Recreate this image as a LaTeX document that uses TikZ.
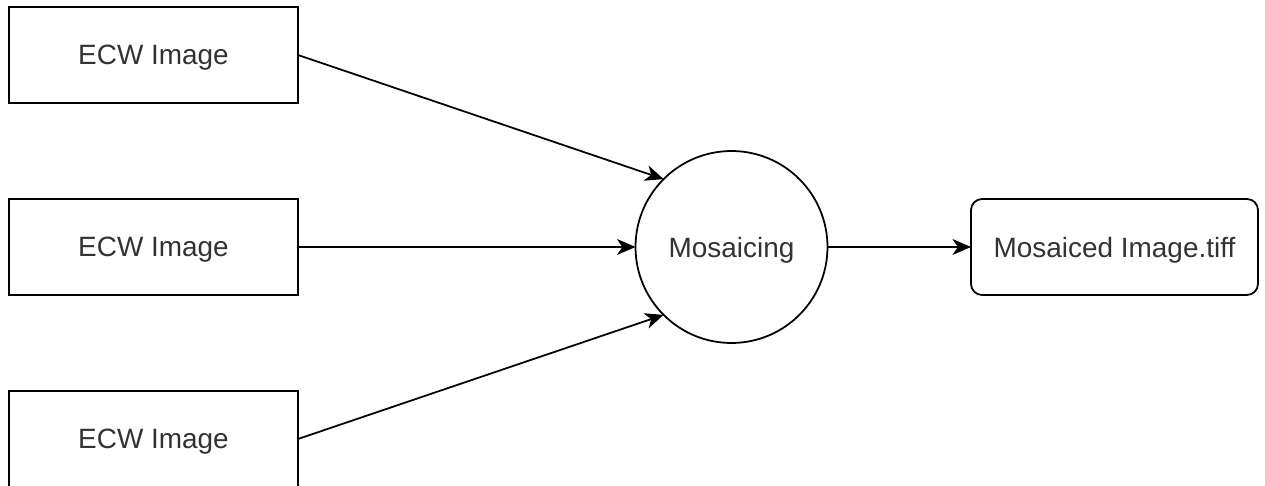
\documentclass[tikz,border=0pt]{standalone}
\usepackage{fontspec}
\setmainfont{Liberation Sans}
\usetikzlibrary{arrows.meta}
\definecolor{txtgray}{HTML}{333333}
\tikzset{
  imgbox/.style={draw, line width=1pt, minimum width=5.78cm, minimum height=1.92cm,
    inner sep=0pt, outer sep=0pt, text=txtgray, text depth=0pt,
    font=\fontsize{15.9}{19}\selectfont},
  procnode/.style={draw, circle, line width=1pt, minimum size=3.84cm,
    inner sep=0pt, outer sep=0pt, text=txtgray, text depth=0pt,
    font=\fontsize{15.9}{19}\selectfont},
  outbox/.style={imgbox, rounded corners=0.22cm, minimum width=5.74cm},
  flow/.style={line width=1pt, -{Stealth[length=10.5pt, width=9pt, inset=3pt]}}
}
\begin{document}
\begin{tikzpicture}[x=0.02cm, y=-0.02cm]
  \useasboundingbox (0, 0) rectangle (1265, 486);

  % The inputs
  \node[imgbox] (ecwa) at (153.5, 55) {ECW Image};
  \node[imgbox] (ecwb) at (153.5, 247) {ECW Image};
  \node[imgbox] (ecwc) at (153.5, 439) {ECW Image};

  % The process and the result
  \node[procnode] (mosaic) at (731.5, 247) {Mosaicing};
  \node[outbox] (result) at (1114.5, 247) {Mosaiced Image.tiff};

  % The flow
  \draw[flow] (ecwa.east) -- (mosaic.north west);
  \draw[flow] (ecwb.east) -- (mosaic.west);
  \draw[flow] (ecwc.east) -- (mosaic.south west);
  \draw[flow] (mosaic.east) -- (result.west);
\end{tikzpicture}
\end{document}
